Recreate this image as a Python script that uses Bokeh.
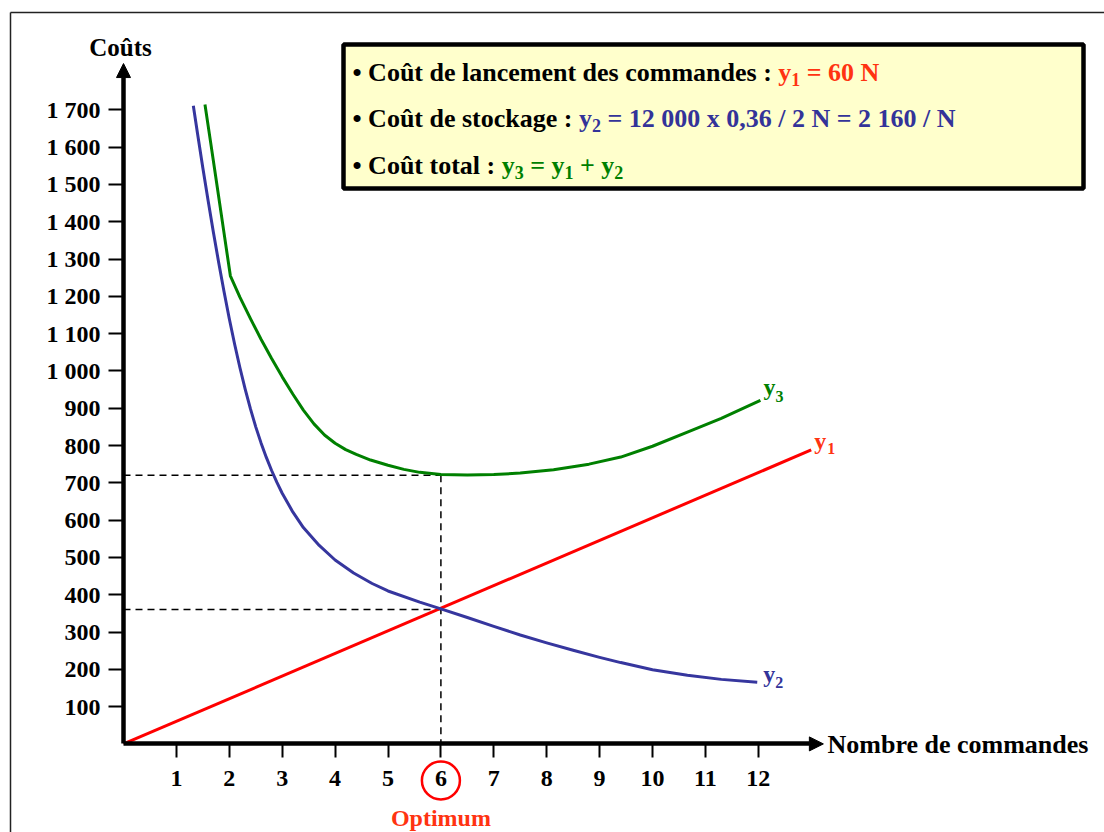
from bokeh.plotting import figure
from bokeh.models import Range1d, FixedTicker, Arrow, NormalHead
from bokeh.core.properties import value
from bokeh.embed import file_html
from bokeh.resources import INLINE

# ---------------- data ----------------
n_y1 = [0.0, 13.0]
y1 = [0, 788]

n_y2 = [1.32, 1.40, 1.50, 1.60, 1.70, 1.80, 1.90, 2.00, 2.10, 2.20, 2.30,
        2.40, 2.50, 2.60, 2.70, 2.80, 2.90, 3.00, 3.20, 3.40, 3.70, 4.00,
        4.35, 4.70, 5.00, 5.60, 6.00, 6.50, 7.00, 7.50, 8.00, 8.50, 9.00,
        9.40, 10.00, 10.66, 11.30, 11.98]
y2 = [1711, 1636, 1544, 1456, 1371, 1290, 1213, 1140, 1072, 1009, 951,
      898, 850, 807, 768, 733, 701, 672, 622, 580, 532, 493,
      458, 430, 410, 380, 362, 339, 315, 292, 271, 251, 232,
      218, 199, 184, 173, 165]

n_y3 = [1.54, 1.65, 1.77, 1.90, 2.02, 2.20, 2.40, 2.60, 2.80, 3.00, 3.20,
        3.40, 3.60, 3.80, 4.00, 4.20, 4.40, 4.67, 5.00, 5.30, 5.60, 6.00,
        6.50, 7.00, 7.50, 8.13, 8.80, 9.40, 10.00, 10.66, 11.30, 12.04]
y3 = [1714, 1610, 1495, 1370, 1255, 1198, 1140, 1085, 1033, 984, 938,
      895, 858, 828, 806, 789, 776, 761, 747, 736, 728, 722,
      721, 722, 726, 735, 750, 769, 798, 836, 873, 921]

opt_n = 6
opt_total = 720
opt_each = 360

x_ticks = [1, 2, 3, 4, 5, 6, 7, 8, 9, 10, 11, 12]
x_tick_labels = ["1", "2", "3", "4", "5", "6", "7", "8", "9", "10", "11", "12"]
y_ticks = [100, 200, 300, 400, 500, 600, 700, 800, 900, 1000, 1100, 1200,
           1300, 1400, 1500, 1600, 1700]
y_tick_labels = ["100", "200", "300", "400", "500", "600", "700", "800", "900",
                 "1 000", "1 100", "1 200", "1 300", "1 400", "1 500", "1 600", "1 700"]

x_title = "Nombre de commandes"
y_title = "Coûts"
opt_label = "Optimum"

legend_lines = [
    [("• Coût de lancement des commandes : ", "black", "n"),
     ("y", "red", "n"), ("1", "red", "s"), (" = 60 N", "red", "n")],
    [("• Coût de stockage : ", "black", "n"),
     ("y", "blue", "n"), ("2", "blue", "s"),
     (" = 12 000 x 0,36 / 2 N = 2 160 / N", "blue", "n")],
    [("• Coût total : ", "black", "n"),
     ("y", "green", "n"), ("3", "green", "s"), (" = ", "green", "n"),
     ("y", "green", "n"), ("1", "green", "s"), (" + ", "green", "n"),
     ("y", "green", "n"), ("2", "green", "s")],
]

# ---------------- styling ----------------
COL = {"black": "#000000", "red": "#ff3311", "blue": "#333399", "green": "#008000"}
RED_LINE = "#ff0000"
BLUE_LINE = "#36369e"
GREEN_LINE = "#008000"
FONT = "Liberation Serif"

W_FIG, H_FIG = 1104, 832
X0_PX, Y0_PX = 123.0, 743.4     # origin in the reference image
PX_N, PX_V = 52.9, 0.373        # pixels per unit


def dx(xr):
    return (xr - X0_PX) / PX_N


def dy(yr):
    return (Y0_PX - yr) / PX_V


p = figure(width=W_FIG, height=H_FIG,
           x_range=Range1d(dx(0), dx(W_FIG)),
           y_range=Range1d(dy(H_FIG), dy(0)),
           output_backend="svg", toolbar_location=None, min_border=0)
p.outline_line_color = None
p.grid.visible = False
p.background_fill_color = "white"
p.border_fill_color = "white"

# axes through the origin
xa = p.xaxis[0]
ya = p.yaxis[0]
for ax in (xa, ya):
    ax.fixed_location = 0
    ax.axis_line_width = 4.5
    ax.axis_line_color = "black"
    ax.major_tick_in = 0
    ax.major_tick_line_width = 2
    ax.major_tick_line_color = "black"
    ax.minor_tick_line_color = None
    ax.major_label_text_font = FONT
    ax.major_label_text_font_style = "bold"
    ax.major_label_text_font_size = "24px"
    ax.major_label_text_color = "black"
xa.ticker = FixedTicker(ticks=x_ticks)
xa.major_label_overrides = {t: l for t, l in zip(x_ticks, x_tick_labels)}
xa.major_tick_out = 14
xa.major_label_standoff = 13
xa.bounds = (0, 12.97)
ya.ticker = FixedTicker(ticks=y_ticks)
ya.major_label_overrides = {t: l for t, l in zip(y_ticks, y_tick_labels)}
ya.major_tick_out = 15
ya.major_label_standoff = 8
ya.bounds = (0, 1786)

p.add_layout(Arrow(end=NormalHead(size=14, fill_color="black", line_color="black", line_width=1),
                   x_start=12.9, y_start=0, x_end=13.23, y_end=0,
                   line_color="black", line_width=1, line_alpha=0))
p.add_layout(Arrow(end=NormalHead(size=14, fill_color="black", line_color="black", line_width=1),
                   x_start=0, y_start=1760, x_end=0, y_end=1824,
                   line_color="black", line_width=1, line_alpha=0))

# picture frame
p.line([dx(10), dx(10)], [dy(12), dy(900)], line_color="#222222", line_width=1.5)
p.line([dx(10), dx(1200)], [dy(12), dy(12)], line_color="#222222", line_width=1.5)

# guide lines at the optimum
p.segment(x0=[0, 0, opt_n], y0=[opt_total, opt_each, opt_total],
          x1=[opt_n, opt_n, opt_n], y1=[opt_total, opt_each, 0],
          line_color="black", line_dash="7 5", line_width=1.5)

# curves
p.line(n_y1, y1, line_color=RED_LINE, line_width=3)
p.line(n_y2, y2, line_color=BLUE_LINE, line_width=3, line_join="round")
p.line(n_y3, y3, line_color=GREEN_LINE, line_width=3, line_join="round")


def tx(x, y, s, color, size, align="left", xo=0, yo=0):
    p.text(x=[x], y=[y], text=[s], text_color=color, text_font=value(FONT),
           text_font_style="bold", text_font_size=f"{size}px",
           text_align=align, text_baseline="middle", x_offset=xo, y_offset=yo)


# curve labels
tx(n_y3[-1], y3[-1], "y", COL["green"], 24, xo=3, yo=-13)
tx(n_y3[-1], y3[-1], "3", COL["green"], 16, xo=15, yo=-4)
tx(n_y1[-1], y1[-1], "y", COL["red"], 24, xo=3, yo=-9)
tx(n_y1[-1], y1[-1], "1", COL["red"], 16, xo=16, yo=-1)
tx(n_y2[-1], y2[-1], "y", COL["blue"], 24, xo=6, yo=-8)
tx(n_y2[-1], y2[-1], "2", COL["blue"], 16, xo=18, yo=0)

# axis titles
tx(dx(120), dy(47), y_title, "black", 25, align="center")
tx(dx(827), dy(744), x_title, "black", 26)

# optimum marker
p.scatter(x=[opt_n], y=[dy(780)], marker="circle", size=38, fill_color=None,
          line_color=RED_LINE, line_width=2.5)
tx(opt_n, dy(817), opt_label, COL["red"], 24, align="center")

# formula box
p.quad(left=[dx(343)], right=[dx(1083)], top=[dy(44)], bottom=[dy(188)],
       fill_color="#ffffcc", line_color="black", line_width=4.5)

WID = {' ': 250, '•': 350, 'C': 722, 'N': 722, 'o': 500, 'û': 556, 't': 333,
       'd': 556, 'e': 444, 'l': 278, 'a': 500, 'n': 556, 'c': 444, 'm': 833,
       's': 389, ':': 333, 'k': 556, 'g': 500, 'y': 500, '=': 570, '+': 570,
       'x': 500, ',': 250, '/': 278}


def run_w(s, size):
    return sum(WID.get(ch, 500) for ch in s) * size / 1000.0


line_mid = [72, 118, 165]
for mid, runs in zip(line_mid, legend_lines):
    xp = 352.0
    for s, c, kind in runs:
        size = 26 if kind == "n" else 18
        yp = mid + (7 if kind == "s" else 0)
        body = s.lstrip(" ")
        lead = run_w(s[:len(s) - len(body)], size)
        if body.strip():
            tx(dx(xp + lead), dy(yp), body.rstrip(" "), COL[c], size)
        xp += run_w(s, size)

open("out.html", "w").write(file_html(p, INLINE))
